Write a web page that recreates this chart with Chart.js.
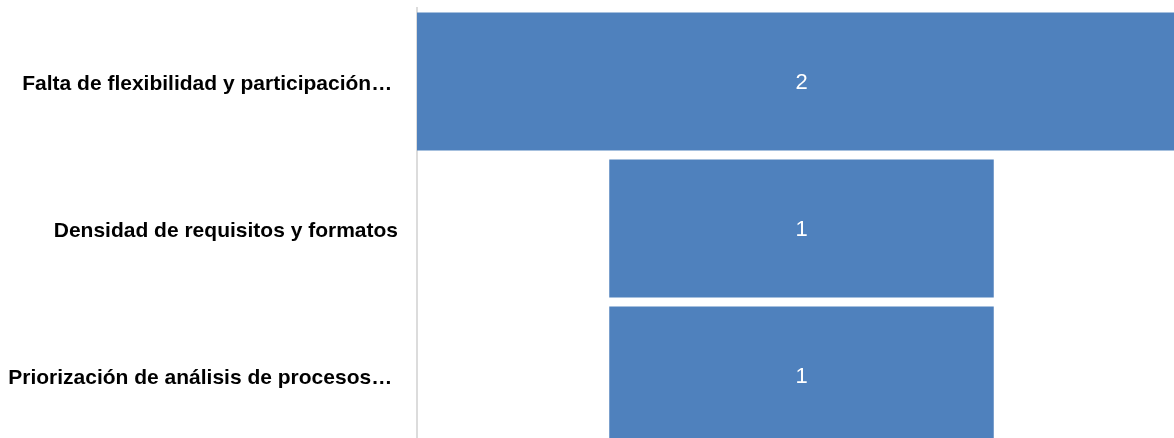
<!DOCTYPE html>
<html>
<head>
<meta charset="utf-8">
<script src="https://cdn.jsdelivr.net/npm/chart.js@4.4.1/dist/chart.umd.min.js"></script>
<style>
    html, body { margin: 0; padding: 0; background: #fff; }
    #wrap { width: 1174px; height: 438px; overflow: hidden; position: relative; }
    #funnelChart { position: absolute; left: 0; top: 0; }
</style>
</head>
<body>
<div id="wrap"><canvas id="funnelChart" width="1190" height="449"></canvas></div>
<script>
const categories = [
    'Falta de flexibilidad y participación…',
    'Densidad de requisitos y formatos',
    'Priorización de análisis de procesos…'
];
const counts = [2, 1, 1];

// embudo: cada barra va centrada en 0, de -v/2 a v/2
const spans = counts.map(v => [-v / 2, v / 2]);

// escribe el valor en el centro de cada barra
const valueLabels = {
    id: 'valueLabels',
    afterDatasetsDraw(chart) {
        const ctx = chart.ctx;
        const meta = chart.getDatasetMeta(0);
        ctx.save();
        ctx.fillStyle = '#ffffff';
        ctx.font = '22px "Liberation Sans", Arial, sans-serif';
        ctx.textAlign = 'center';
        ctx.textBaseline = 'middle';
        meta.data.forEach((bar, i) => {
            const p = bar.getProps(['x', 'y', 'base'], true);
            ctx.fillText(String(counts[i]), (p.x + p.base) / 2, p.y + 1);
        });
        ctx.restore();
    }
};

const ctx = document.getElementById('funnelChart').getContext('2d');

new Chart(ctx, {
    type: 'bar',
    data: {
        labels: categories,
        datasets: [{
            data: spans,
            backgroundColor: '#4f81bd',
            borderWidth: 0,
            borderSkipped: false,
            categoryPercentage: 1,
            barPercentage: 0.94
        }]
    },
    options: {
        indexAxis: 'y',
        responsive: false,
        animation: false,
        layout: { padding: { top: 8, right: 4, bottom: 0, left: 0 } },
        scales: {
            x: {
                display: false,
                min: -1,
                max: 1
            },
            y: {
                grid: { display: false, drawTicks: false },
                border: { display: true, color: '#dcdcdc', width: 2 },
                ticks: {
                    color: '#000',
                    padding: 19,
                    labelOffset: 3,
                    font: { family: '"Liberation Sans", Arial, sans-serif', size: 21, weight: 'bold' },
                    // las etiquetas cortadas llevan un poco de aire tras los puntos
                    callback: function (value) {
                        const txt = this.getLabelForValue(value);
                        return txt.endsWith('…') ? txt + '\u00a0' : txt;
                    }
                },
                afterFit: (axis) => {
                    axis.width = 417;
                    axis.paddingTop = 0;
                    axis.paddingBottom = 0;
                }
            }
        },
        plugins: {
            legend: { display: false },
            tooltip: { enabled: false }
        }
    },
    plugins: [valueLabels]
});
</script>
</body>
</html>
